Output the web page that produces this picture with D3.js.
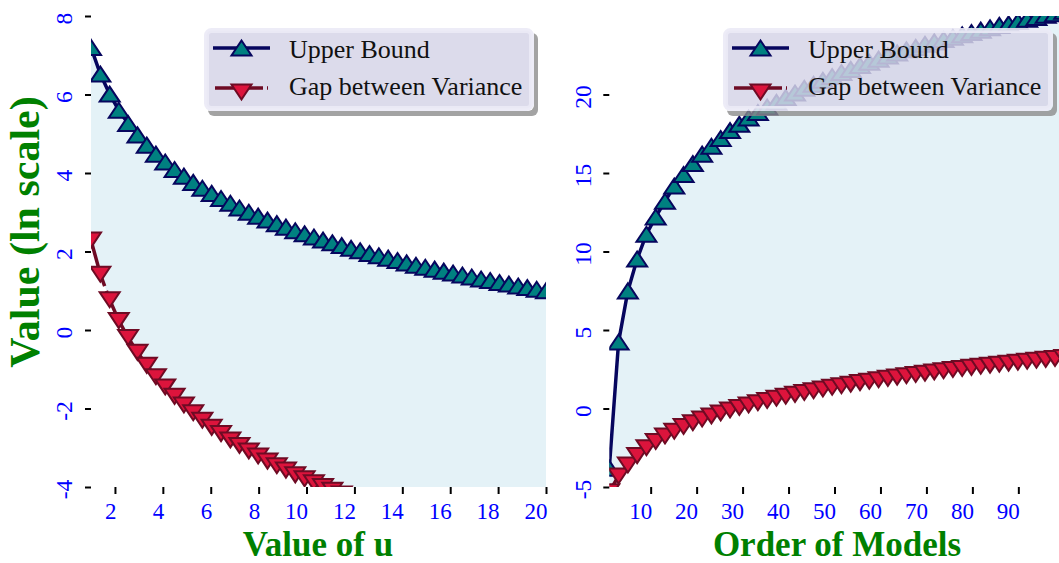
<!DOCTYPE html>
<html lang="en">
<head>
<meta charset="UTF-8">
<title>Upper Bound and Gap between Variance</title>
<script src="https://d3js.org/d3.v7.min.js"></script>
<style>
  body { margin: 0; background: #fff; }
  svg { display: block; }
  svg text { font-family: "Liberation Serif", "DejaVu Serif", serif; }
  .tick line { stroke: #000; stroke-width: 2; }
  .domain { display: none; }
</style>
</head>
<body>
<svg width="1059" height="563"></svg>
<script>
// left panel: value of u
const uValues = [1.00,1.39,1.78,2.16,2.55,2.94,3.33,3.71,4.10,4.49,4.88,5.27,5.65,6.04,6.43,6.82,7.20,7.59,7.98,8.37,
  8.76,9.14,9.53,9.92,10.31,10.69,11.08,11.47,11.86,12.24,12.63,13.02,13.41,13.80,14.18,14.57,14.96,15.35,15.73,16.12,
  16.51,16.90,17.29,17.67,18.06,18.45,18.84,19.22,19.61,20.00];
const upperByU = [7.20,6.52,6.01,5.60,5.26,4.97,4.71,4.48,4.28,4.09,3.92,3.76,3.61,3.48,3.35,3.23,3.11,3.00,2.90,2.80,
  2.71,2.62,2.53,2.45,2.37,2.29,2.22,2.15,2.08,2.02,1.95,1.89,1.83,1.77,1.71,1.65,1.60,1.55,1.50,1.45,
  1.40,1.35,1.30,1.26,1.21,1.17,1.12,1.08,1.04,1.00];
const gapByU = [2.29,1.42,0.77,0.24,-0.19,-0.57,-0.90,-1.19,-1.45,-1.69,-1.91,-2.11,-2.30,-2.48,-2.64,-2.80,-2.94,-3.08,-3.21,-3.34,
  -3.46,-3.57,-3.69,-3.79,-3.89,-3.99,-4.08,-4.18,-4.26,-4.35,-4.43,-4.51,-4.59,-4.66,-4.74,-4.81,-4.88,-4.95,-5.01,-5.08,
  -5.14,-5.20,-5.26,-5.32,-5.38,-5.43,-5.49,-5.54,-5.60,-5.65];

// right panel: order of models
const orderValues = [1.00,3.02,5.04,7.06,9.08,11.10,13.12,15.14,17.16,19.18,21.20,23.22,25.24,27.27,29.29,31.31,33.33,35.35,37.37,39.39,
  41.41,43.43,45.45,47.47,49.49,51.51,53.53,55.55,57.57,59.59,61.61,63.63,65.65,67.67,69.69,71.71,73.73,75.76,77.78,79.80,
  81.82,83.84,85.86,87.88,89.90,91.92,93.94,95.96,97.98,100.00];
const upperByOrder = [-3.8,4.24,7.49,9.52,11.1,12.2,13.2,14.17,14.9,15.6,16.2,16.7,17.2,17.7,18.1,18.5,18.85,19.2,19.5,19.8,
  20.1,20.4,20.65,20.9,21.15,21.4,21.6,21.85,22.05,22.25,22.45,22.65,22.85,23.0,23.2,23.35,23.5,23.65,23.8,23.95,
  24.1,24.25,24.4,24.5,24.65,24.8,24.9,25.05,25.15,25.3];
const gapByOrder = [-5.3,-4.3,-3.6,-3.0,-2.5,-2.1,-1.75,-1.45,-1.15,-0.9,-0.67,-0.47,-0.28,-0.1,0.07,0.22,0.37,0.51,0.65,0.78,
  0.9,1.02,1.13,1.24,1.35,1.45,1.55,1.65,1.74,1.83,1.92,2.0,2.09,2.17,2.25,2.33,2.4,2.48,2.55,2.62,
  2.69,2.76,2.82,2.89,2.95,3.01,3.07,3.13,3.19,3.25];

const uTicks = [2,4,6,8,10,12,14,16,18,20];
const orderTicks = [10,20,30,40,50,60,70,80,90];
const valueTicksLeft = [-4,-2,0,2,4,6,8];
const valueTicksRight = [-5,0,5,10,15,20];
const seriesNames = ['Upper Bound', 'Gap between Variance'];

const svg = d3.select('svg');
const serif = '"Liberation Serif", "DejaVu Serif", serif';

const upColor = '#06065e', upFill = '#008080';
const gapColor = '#6e0b24', gapFill = '#dc143c';
const triUp = 'M0,-7.5L10,7.5L-10,7.5Z';
const triDown = 'M0,7.5L10,-7.5L-10,-7.5Z';

const panels = [
  { id: 'p1', xs: uValues, upper: upperByU, gap: gapByU, xDomain: [1, 20], xRange: [91, 546],
    yDomain: [-4, 8], xTicks: uTicks, yTicks: valueTicksLeft, xTitle: 'Value of u', titleX: 318, legendX: 204 },
  { id: 'p2', xs: orderValues, upper: upperByOrder, gap: gapByOrder, xDomain: [1, 100], xRange: [609.3, 1064.3],
    yDomain: [-5, 25], xTicks: orderTicks, yTicks: valueTicksRight, xTitle: 'Order of Models', titleX: 837, legendX: 723 }
];

const plotTop = 16, plotBottom = 487;

panels.forEach(p => {
  const x = d3.scaleLinear().domain(p.xDomain).range(p.xRange);
  const y = d3.scaleLinear().domain(p.yDomain).range([plotBottom, plotTop]);
  const pts = p.xs.map((v, i) => ({ x: v, up: p.upper[i], gap: p.gap[i] }));

  svg.append('clipPath').attr('id', 'clip-' + p.id)
    .append('rect')
    .attr('x', p.xRange[0]).attr('y', plotTop)
    .attr('width', p.xRange[1] - p.xRange[0]).attr('height', plotBottom - plotTop);

  const g = svg.append('g').attr('clip-path', `url(#clip-${p.id})`);

  // shaded band between the two curves
  g.append('path')
    .datum(pts)
    .attr('fill', '#e4f2f7')
    .attr('d', d3.area().x(d => x(d.x)).y0(d => y(d.gap)).y1(d => y(d.up)));

  g.append('path')
    .datum(pts)
    .attr('fill', 'none')
    .attr('stroke', upColor)
    .attr('stroke-width', 3.5)
    .attr('d', d3.line().x(d => x(d.x)).y(d => y(d.up)));

  g.selectAll('.up-mark')
    .data(pts)
    .enter().append('path')
    .attr('class', 'up-mark')
    .attr('d', triUp)
    .attr('transform', d => `translate(${x(d.x)},${y(d.up)})`)
    .attr('fill', upFill)
    .attr('stroke', upColor)
    .attr('stroke-width', 2);

  g.append('path')
    .datum(pts)
    .attr('fill', 'none')
    .attr('stroke', gapColor)
    .attr('stroke-width', 3.5)
    .attr('stroke-dasharray', '48,5')
    .attr('d', d3.line().x(d => x(d.x)).y(d => y(d.gap)));

  g.selectAll('.gap-mark')
    .data(pts)
    .enter().append('path')
    .attr('class', 'gap-mark')
    .attr('d', triDown)
    .attr('transform', d => `translate(${x(d.x)},${y(d.gap)})`)
    .attr('fill', gapFill)
    .attr('stroke', gapColor)
    .attr('stroke-width', 2);

  // axes
  const xAxis = svg.append('g')
    .attr('transform', `translate(0,${plotBottom})`)
    .call(d3.axisBottom(x).tickValues(p.xTicks).tickSize(7).tickFormat(d => String(d)));
  xAxis.attr('font-family', serif).attr('font-size', 23);
  xAxis.selectAll('.tick text')
    .attr('fill', '#0000ff')
    .attr('text-anchor', 'end')
    .attr('x', 1)
    .attr('y', 32)
    .attr('dy', null);

  const yAxis = svg.append('g')
    .attr('transform', `translate(${p.xRange[0]},0)`)
    .call(d3.axisLeft(y).tickValues(p.yTicks).tickSize(6).tickFormat(d => String(d)));
  yAxis.attr('font-family', serif).attr('font-size', 23.5);
  yAxis.selectAll('.tick text')
    .attr('fill', '#0000ff')
    .attr('x', null)
    .attr('dy', '0.35em')
    .attr('text-anchor', 'middle')
    .attr('transform', 'translate(-27,2) rotate(-90)');

  svg.append('text')
    .attr('x', p.titleX)
    .attr('y', 556)
    .attr('text-anchor', 'middle')
    .attr('fill', '#008000')
    .attr('font-weight', 'bold')
    .attr('font-family', serif)
    .attr('font-size', 35)
    .text(p.xTitle);

  // legend with drop shadow
  const lw = 330, lh = 83;
  const maskId = 'shadow-mask-' + p.id;
  const mask = svg.append('mask').attr('id', maskId);
  mask.append('rect').attr('x', p.legendX - 10).attr('y', 0).attr('width', lw + 30).attr('height', lh + 50).attr('fill', '#fff');
  mask.append('rect').attr('x', p.legendX).attr('y', 28).attr('width', lw).attr('height', lh).attr('rx', 6).attr('fill', '#000');
  svg.append('rect')
    .attr('x', p.legendX + 4).attr('y', 33)
    .attr('width', lw).attr('height', lh).attr('rx', 6)
    .attr('fill', '#8d8d8d').attr('opacity', 0.8)
    .attr('mask', `url(#${maskId})`);

  const lg = svg.append('g').attr('transform', `translate(${p.legendX},28)`);
  lg.append('rect')
    .attr('x', 2.5).attr('y', 2.5)
    .attr('width', lw - 5).attr('height', lh - 5).attr('rx', 5)
    .attr('fill', '#d6d5e8').attr('fill-opacity', 0.85)
    .attr('stroke', '#ebeaf6').attr('stroke-width', 5).attr('stroke-opacity', 0.9);

  lg.append('line').attr('x1', 9).attr('x2', 66).attr('y1', 20).attr('y2', 20)
    .attr('stroke', upColor).attr('stroke-width', 3.5);
  lg.append('path').attr('d', triUp).attr('transform', 'translate(37.5,20)')
    .attr('fill', upFill).attr('stroke', upColor).attr('stroke-width', 2);
  lg.append('line').attr('x1', 11).attr('x2', 64).attr('y1', 60).attr('y2', 60)
    .attr('stroke', gapColor).attr('stroke-width', 3.5).attr('stroke-dasharray', '48,4');
  lg.append('path').attr('d', triDown).attr('transform', 'translate(37.5,64)')
    .attr('fill', gapFill).attr('stroke', gapColor).attr('stroke-width', 2);

  lg.selectAll('.legend-text')
    .data(seriesNames)
    .enter().append('text')
    .attr('class', 'legend-text')
    .attr('x', 85)
    .attr('y', (d, i) => 30 + i * 37)
    .attr('fill', '#111')
    .attr('font-family', serif)
    .attr('font-size', 26)
    .text(d => d);
});

svg.append('text')
  .attr('transform', 'translate(39,232) rotate(-90)')
  .attr('text-anchor', 'middle')
  .attr('fill', '#008000')
  .attr('font-weight', 'bold')
  .attr('font-family', serif)
  .attr('font-size', 42)
  .text('Value (ln scale)');
</script>
</body>
</html>
